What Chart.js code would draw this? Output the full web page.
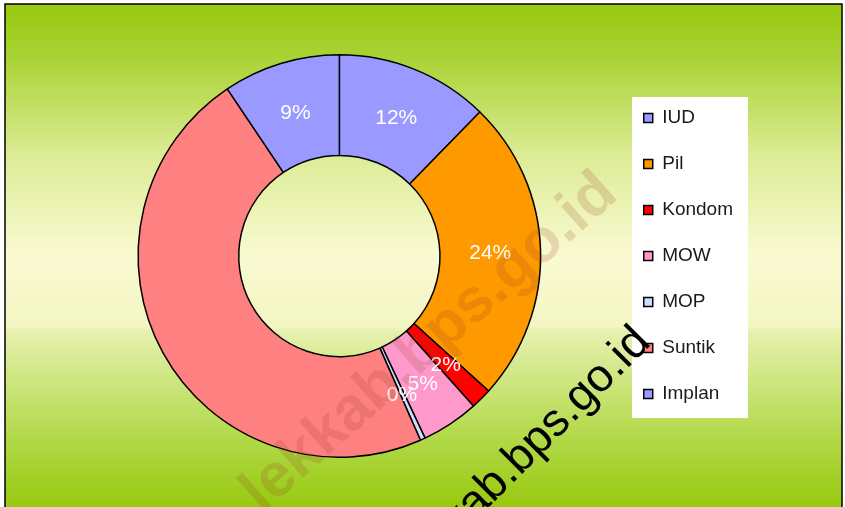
<!DOCTYPE html>
<html>
<head>
<meta charset="utf-8">
<script src="https://cdn.jsdelivr.net/npm/chart.js@4.4.0/dist/chart.umd.min.js"></script>
<style>
html, body { margin: 0; padding: 0; background: #fff; }
canvas { display: block; }
</style>
</head>
<body>
<canvas id="kbChart" width="845" height="507"></canvas>
<script>
// peserta KB menurut alat kontrasepsi (persen)
var methods = ["IUD", "Pil", "Kondom", "MOW", "MOP", "Suntik", "Implan"];
var shares = [12.3, 24.4, 1.7, 4.6, 0.4, 47.2, 9.4];
var sliceColors = ["#9999FF", "#FF9900", "#FF0000", "#FF99CC", "#CCDDFF", "#FF8080", "#9999FF"];
var showPct = [true, true, true, true, true, false, true];
var watermark = "lekkab.bps.go.id";

var FONT = "'Liberation Sans', Arial, sans-serif";

var decor = {
  id: 'decor',
  beforeDraw: function(chart) {
    var c = chart.ctx;
    c.save();
    var g = c.createLinearGradient(0, 5, 0, 507);
    g.addColorStop(0, '#98C90F');
    g.addColorStop(0.1, '#A8D232');
    g.addColorStop(0.3, '#DCEC95');
    g.addColorStop(0.5, '#FAFAD2');
    g.addColorStop(0.64, '#F3F6C2');
    g.addColorStop(0.65, '#E6F1AE');
    g.addColorStop(0.86, '#B2D94A');
    g.addColorStop(1, '#98C90F');
    c.fillStyle = g;
    c.fillRect(5, 4, 837, 503);
    // kotak legenda
    c.fillStyle = '#ffffff';
    c.fillRect(632, 97, 116, 321);
    c.restore();
  },
  afterDatasetsDraw: function(chart) {
    var c = chart.ctx;
    var arcs = chart.getDatasetMeta(0).data;
    c.save();
    c.fillStyle = '#ffffff';
    c.font = '21px ' + FONT;
    c.textAlign = 'center';
    c.textBaseline = 'middle';
    arcs.forEach(function(arc, i) {
      if (!showPct[i]) return;
      var p = arc.tooltipPosition();
      c.fillText(Math.round(shares[i]) + '%', p.x, p.y + 2);
    });
    c.restore();
  },
  afterDraw: function(chart) {
    var c = chart.ctx;
    c.save();
    // watermark transparan
    c.translate(262, 514);
    c.rotate(-41.5 * Math.PI / 180);
    c.font = 'bold 61px ' + FONT;
    c.fillStyle = 'rgba(150,60,30,0.18)';
    c.fillText(watermark, 0, 0);
    c.restore();

    c.save();
    c.translate(652, 344);
    c.rotate(-45 * Math.PI / 180);
    c.font = '46px ' + FONT;
    c.textAlign = 'right';
    c.fillStyle = '#000';
    c.fillText(watermark, 0, 0);
    c.restore();

    c.save();
    c.strokeStyle = '#000';
    c.lineWidth = 1.5;
    c.strokeRect(5, 4, 837, 506);
    c.restore();
  }
};

new Chart(document.getElementById('kbChart'), {
  type: 'doughnut',
  data: {
    labels: methods,
    datasets: [{
      data: shares,
      backgroundColor: sliceColors,
      borderColor: '#000',
      borderWidth: 1.5
    }]
  },
  options: {
    responsive: false,
    animation: false,
    cutout: '50%',
    layout: { padding: { left: 62, right: 102, top: 54, bottom: 49 } },
    plugins: {
      legend: {
        position: 'right',
        align: 'center',
        labels: {
          boxWidth: 9,
          boxHeight: 9,
          padding: 27,
          color: '#1a1a1a',
          font: { family: FONT, size: 19 }
        }
      },
      tooltip: { enabled: false }
    }
  },
  plugins: [decor]
});
</script>
</body>
</html>
